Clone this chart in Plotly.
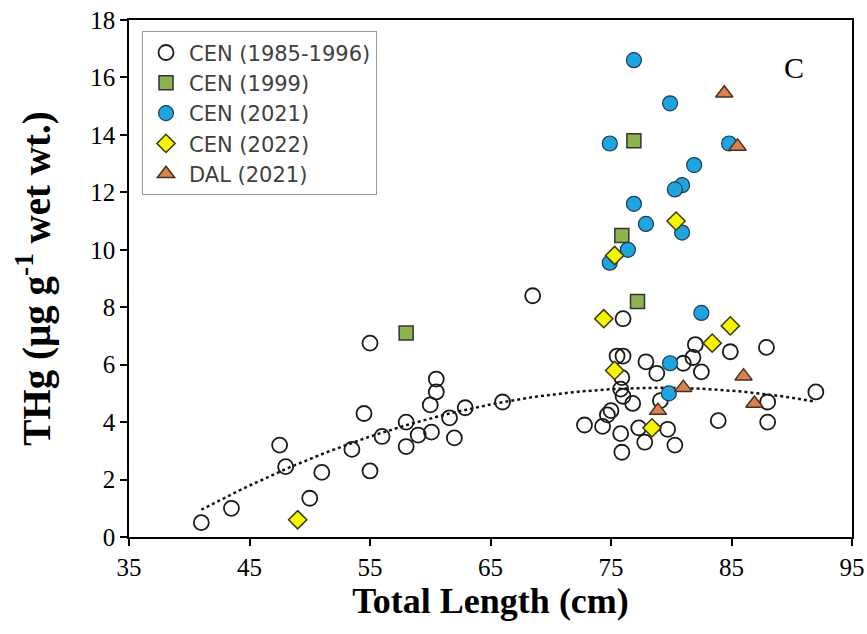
import numpy as np
import plotly.graph_objects as go

# ---- data (Total Length cm, THg µg/g wet wt.) ----
cen_hist_x = [41.0, 43.5, 47.5, 48.0, 50.0, 51.0, 53.5, 54.5, 55.0, 55.0, 56.0, 58.0, 58.0, 59.0,
              60.0, 60.1, 60.5, 60.5, 61.6, 62.0, 62.9, 66.0, 68.5, 72.8, 74.3, 74.7, 75.0, 75.8,
              75.9, 75.5, 76.0, 76.0, 75.9, 75.8, 76.0, 76.8, 77.3, 77.8, 77.9, 78.8, 79.1, 79.7,
              80.3, 81.0, 81.8, 82.0, 82.5, 83.9, 84.9, 87.9, 88.0, 88.0, 92.0]
cen_hist_y = [0.5, 1.0, 3.2, 2.45, 1.35, 2.25, 3.05, 4.3, 6.75, 2.3, 3.5, 4.0, 3.15, 3.55,
              4.6, 3.65, 5.5, 5.05, 4.15, 3.45, 4.5, 4.7, 8.4, 3.9, 3.85, 4.25, 4.4, 3.6,
              2.95, 6.3, 6.3, 7.6, 5.55, 5.15, 4.9, 4.65, 3.8, 3.3, 6.1, 5.7, 4.75, 3.75,
              3.2, 6.05, 6.25, 6.7, 5.75, 4.05, 6.45, 6.6, 4.7, 4.0, 5.05]

cen1999_x = [58.0, 77.2, 75.9, 76.9]
cen1999_y = [7.1, 8.2, 10.5, 13.8]

cen2021_x = [76.9, 79.9, 74.9, 84.8, 81.9, 80.9, 80.3, 76.9, 77.9, 80.9, 76.4, 74.9, 82.5, 79.9, 79.8]
cen2021_y = [16.6, 15.1, 13.7, 13.7, 12.95, 12.25, 12.1, 11.6, 10.9, 10.6, 10.0, 9.55, 7.8, 6.05, 5.0]

cen2022_x = [49.0, 75.3, 80.4, 74.4, 84.9, 83.4, 75.3, 78.4]
cen2022_y = [0.6, 9.8, 11.0, 7.6, 7.35, 6.75, 5.8, 3.8]

dal2021_x = [84.4, 85.5, 86.0, 81.0, 86.9, 78.9]
dal2021_y = [15.45, 13.6, 5.6, 5.2, 4.65, 4.4]

x_ticks = [35, 45, 55, 65, 75, 85, 95]
y_ticks = [0, 2, 4, 6, 8, 10, 12, 14, 16, 18]

# polynomial (order 2) trendline fitted to the historical CEN data
coef = np.polyfit(cen_hist_x, cen_hist_y, 2)
trend_x = np.linspace(min(cen_hist_x), max(cen_hist_x), 120)
trend_y = np.polyval(coef, trend_x)

fig = go.Figure()
fig.add_trace(go.Scatter(x=trend_x, y=trend_y, mode="lines", showlegend=False,
                         line=dict(color="#111111", width=2.5, dash="dot"), hoverinfo="skip"))
fig.add_trace(go.Scatter(x=cen_hist_x, y=cen_hist_y, mode="markers", name="CEN (1985-1996)",
                         legendgroup="a",
                         marker=dict(symbol="circle-open", size=15, color="#1a1a1a",
                                     line=dict(width=1.8))))
fig.add_trace(go.Scatter(x=cen1999_x, y=cen1999_y, mode="markers", name="CEN (1999)",
                         legendgroup="b",
                         marker=dict(symbol="square", size=14, color="#8DB34E",
                                     line=dict(color="#333333", width=1.5))))
fig.add_trace(go.Scatter(x=cen2021_x, y=cen2021_y, mode="markers", name="CEN (2021)",
                         legendgroup="c",
                         marker=dict(symbol="circle", size=15, color="#1EA5DF",
                                     line=dict(color="#1d3a52", width=1.2))))
fig.add_trace(go.Scatter(x=cen2022_x, y=cen2022_y, mode="markers", name="CEN (2022)",
                         legendgroup="d",
                         marker=dict(symbol="diamond", size=14, color="#F5F500",
                                     line=dict(color="#3a3a10", width=1.5))))
fig.add_trace(go.Scatter(x=dal2021_x, y=dal2021_y, mode="markers", name="DAL (2021)",
                         legendgroup="e",
                         marker=dict(symbol="triangle-up", size=15, color="#D9824C",
                                     line=dict(color="#4a3020", width=1.5))))

fig.add_annotation(text="C", xref="paper", yref="paper", x=0.92, y=0.908,
                   xanchor="center", yanchor="middle",
                   showarrow=False, font=dict(family="Liberation Serif", size=30, color="black"))

axis_common = dict(showline=True, linecolor="black", linewidth=1.5, mirror=True,
                   ticks="outside", ticklen=7, tickwidth=1.5, tickcolor="black",
                   showgrid=False, zeroline=False,
                   tickfont=dict(family="Liberation Serif", size=25, color="black"))

fig.update_layout(
    width=867, height=634,
    margin=dict(l=129, r=15, t=20, b=97),
    paper_bgcolor="white", plot_bgcolor="white",
    xaxis=dict(range=[35, 95], tickvals=x_ticks, **axis_common, automargin=False,
               title=dict(text="<b>Total Length (cm)</b>", standoff=8,
                          font=dict(family="Liberation Serif", size=36, color="black"))),
    yaxis=dict(range=[0, 18], tickvals=y_ticks, **axis_common, automargin=False,
               title=dict(text="<b>THg (µg g<sup>-1</sup> wet wt.)</b>", standoff=28,
                          font=dict(family="Liberation Serif", size=39, color="black"))),
    legend=dict(x=0.018, y=0.978, xanchor="left", yanchor="top",
                bordercolor="#9a9a9a", borderwidth=1, bgcolor="white",
                tracegroupgap=0, itemwidth=36,
                font=dict(family="DejaVu Sans", size=21, color="#404040")),
)

fig.write_html("out.html")
